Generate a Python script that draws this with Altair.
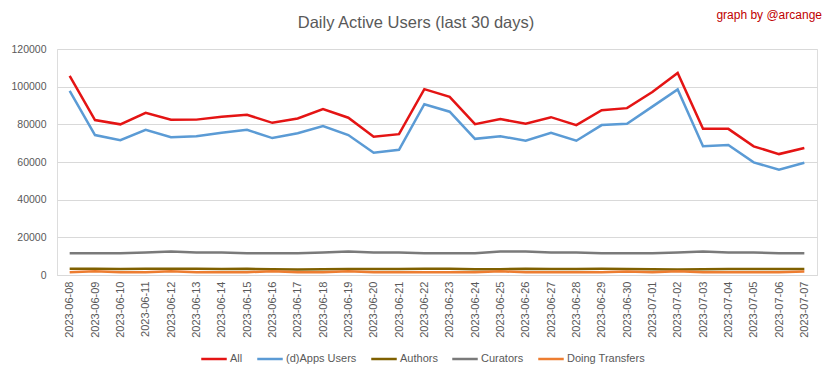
import altair as alt
import pandas as pd

dates = ["2023-06-08", "2023-06-09", "2023-06-10", "2023-06-11", "2023-06-12", "2023-06-13",
         "2023-06-14", "2023-06-15", "2023-06-16", "2023-06-17", "2023-06-18", "2023-06-19",
         "2023-06-20", "2023-06-21", "2023-06-22", "2023-06-23", "2023-06-24", "2023-06-25",
         "2023-06-26", "2023-06-27", "2023-06-28", "2023-06-29", "2023-06-30", "2023-07-01",
         "2023-07-02", "2023-07-03", "2023-07-04", "2023-07-05", "2023-07-06", "2023-07-07"]

all_users = [105700, 82300, 80000, 86100, 82400, 82500, 84000, 85100, 80800, 83100,
             88100, 83500, 73400, 74800, 98700, 94600, 80100, 82800, 80300, 83800,
             79600, 87500, 88600, 97200, 107300, 77600, 77600, 68300, 64200, 67400]

apps_users = [97800, 74300, 71600, 77100, 73200, 73700, 75500, 77100, 72700, 75300,
              79100, 74300, 64900, 66500, 90700, 86700, 72300, 73700, 71300, 75500,
              71300, 79600, 80300, 89400, 98500, 68400, 69000, 59800, 55900, 59600]

authors = [3300, 3300, 3200, 3300, 3300, 3300, 3200, 3300, 3100, 2900,
           3000, 3200, 3200, 3200, 3300, 3300, 3000, 3100, 3300, 3200,
           3200, 3300, 3200, 3000, 2900, 3100, 3200, 3200, 3200, 3200]

curators = [11500, 11500, 11500, 12000, 12500, 12000, 12000, 11500, 11500, 11500,
            12000, 12500, 12000, 12000, 11500, 11500, 11500, 12500, 12500, 12000,
            12000, 11500, 11500, 11500, 12000, 12500, 12000, 12000, 11500, 11500]

transfers = [1400, 2000, 1400, 1400, 2000, 1400, 1400, 1500, 2000, 1400,
             1500, 2000, 1400, 1400, 1400, 1400, 1500, 2000, 1400, 1400,
             1400, 1500, 1900, 1400, 2000, 1500, 1400, 1400, 1400, 1900]

series_names = ["All", "(d)Apps Users", "Authors", "Curators", "Doing Transfers"]
series_colors = ["#e41414", "#5b9bd5", "#7f6000", "#7a7a7a", "#ed7d31"]
series_values = [all_users, apps_users, authors, curators, transfers]

rows = []
for name, vals in zip(series_names, series_values):
    for d, v in zip(dates, vals):
        rows.append({"date": d, "series": name, "value": v, "order": series_names.index(name)})
df = pd.DataFrame(rows)

FONT = "Liberation Sans"
GRAY = "#595959"

lines = alt.Chart(df).mark_line(strokeWidth=2.5).encode(
    x=alt.X("date:O", sort=dates, title=None,
            scale=alt.Scale(type="point", padding=0.5),
            axis=alt.Axis(labelAngle=-90, labelColor=GRAY, labelFontSize=11, labelFont=FONT,
                          ticks=False, tickSize=0, labelPadding=6, domainColor="#d9d9d9",
                          domainWidth=1, grid=False)),
    y=alt.Y("value:Q", title=None,
            scale=alt.Scale(domain=[0, 120000], nice=False),
            axis=alt.Axis(values=[0, 20000, 40000, 60000, 80000, 100000, 120000], format="d",
                          labelColor=GRAY, labelFontSize=10.5, labelFont=FONT, ticks=False,
                          tickSize=0, labelPadding=11, domain=False, gridColor="#d9d9d9",
                          gridWidth=1)),
    color=alt.Color("series:N", sort=series_names,
                    scale=alt.Scale(domain=series_names, range=series_colors),
                    legend=alt.Legend(title=None, orient="none", direction="horizontal",
                                      legendX=143, legendY=296, symbolType="stroke",
                                      symbolSize=650, symbolStrokeWidth=2.5,
                                      labelFont=FONT, labelFontSize=11, labelColor=GRAY,
                                      columnPadding=9, labelOffset=2)),
    order=alt.Order("order:Q"),
    detail="series:N",
)

watermark = alt.Chart(pd.DataFrame({"t": ["graph by @arcange"]})).mark_text(
    align="right", baseline="middle", fontSize=12, font=FONT, color="#c00000"
).encode(x=alt.value(765), y=alt.value(-34), text="t:N")

chart = alt.layer(lines, watermark).properties(
    width=760, height=226,
    title=alt.TitleParams("Daily Active Users (last 30 days)", fontSize=16.5, font=FONT,
                          color=GRAY, fontWeight="normal", anchor="middle", dx=-21,
                          offset=-22),
    autosize=alt.AutoSizeParams(type="none"),
    padding={"left": 49, "top": 41, "right": 8, "bottom": 96},
).configure_view(stroke=None).configure(background="white")

chart.save("out.html", embed_options={"renderer": "svg", "actions": False})
